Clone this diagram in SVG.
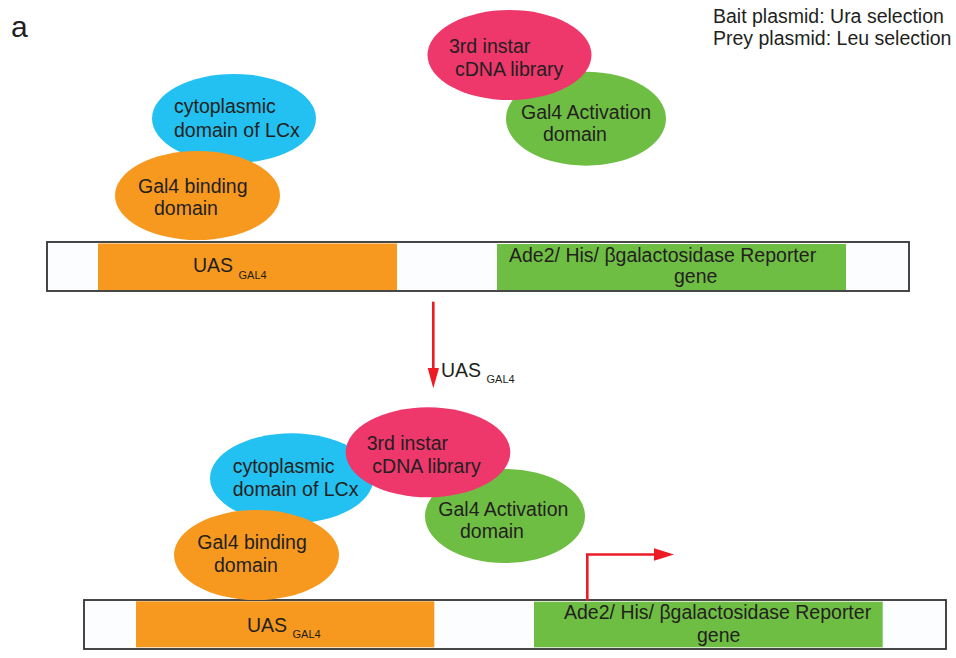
<svg xmlns="http://www.w3.org/2000/svg" width="956" height="658" viewBox="0 0 956 658">
<style>
text{font-family:"Liberation Sans",Arial,sans-serif;font-size:19.5px;fill:#231f20}
.sub{font-size:11px}
.bar{fill:#fcfdff;stroke:#333;stroke-width:1.8}
.cy{fill:#22c1f1}
.or{fill:#f7991f}
.pk{fill:#ee386c}
.gr{fill:#6fbe44}
.red{stroke:#ed1c24;stroke-width:2.6;fill:none}
.redf{fill:#ed1c24}
</style>
<rect width="956" height="658" fill="#fff"/>
<text x="11" y="37" style="font-size:30px">a</text>
<g id="legend">
<text x="713" y="23">Bait plasmid: Ura selection</text>
<text x="713" y="45">Prey plasmid: Leu selection</text>
</g>
<!-- top panel -->
<g id="top-plasmid">
<rect class="bar" x="47" y="242" width="862" height="49"/>
<rect class="or" x="98" y="243.5" width="299" height="46.5"/>
<rect class="gr" x="497" y="244" width="349" height="46"/>
<text x="193" y="272">UAS <tspan class="sub" dy="6.5">GAL4</tspan></text>
<text x="509" y="262">Ade2/ His/ βgalactosidase Reporter</text>
<text x="674" y="283">gene</text>
</g>
<g id="top-lcx">
<ellipse class="cy" cx="234" cy="118.5" rx="82" ry="44.5"/>
<text x="174" y="113">cytoplasmic</text>
<text x="174" y="137">domain of LCx</text>
</g>
<g id="top-gal4bd">
<ellipse class="or" cx="197.5" cy="195.5" rx="82.5" ry="44.5"/>
<text x="138" y="193">Gal4 binding</text>
<text x="154" y="215">domain</text>
</g>
<g id="top-gal4ad">
<ellipse class="gr" cx="586" cy="118.7" rx="80" ry="47"/>
<text x="521" y="119">Gal4 Activation</text>
<text x="543" y="141">domain</text>
</g>
<g id="top-cdna">
<ellipse class="pk" cx="509.5" cy="55" rx="82" ry="45"/>
<text x="449" y="53">3rd instar</text>
<text x="455" y="76">cDNA library</text>
</g>
<!-- bottom panel -->
<g id="bottom-plasmid">
<rect class="bar" x="84" y="600" width="862" height="49"/>
<rect class="or" x="136" y="601.3" width="298.3" height="46"/>
<rect class="gr" x="534" y="601.7" width="348.7" height="45.6"/>
<text x="247" y="632">UAS <tspan class="sub" dy="5.5">GAL4</tspan></text>
<text x="564" y="618.5">Ade2/ His/ βgalactosidase Reporter</text>
<text x="697" y="642">gene</text>
</g>
<g id="bottom-lcx">
<ellipse class="cy" cx="291.7" cy="478.3" rx="81.7" ry="45"/>
<text x="232.7" y="472.7">cytoplasmic</text>
<text x="232.7" y="496">domain of LCx</text>
</g>
<g id="bottom-gal4bd">
<ellipse class="or" cx="256.5" cy="555" rx="82.5" ry="45"/>
<text x="197.3" y="549">Gal4 binding</text>
<text x="214" y="572.3">domain</text>
</g>
<g id="bottom-gal4ad">
<ellipse class="gr" cx="505" cy="516" rx="80" ry="47"/>
<text x="438.3" y="515.7">Gal4 Activation</text>
<text x="460" y="538.3">domain</text>
</g>
<g id="bottom-cdna">
<ellipse class="pk" cx="428" cy="452.3" rx="82.3" ry="45"/>
<text x="366.7" y="450">3rd instar</text>
<text x="372.3" y="472.7">cDNA library</text>
</g>
<g id="connectors">
<line class="red" x1="433.3" y1="301.7" x2="433.3" y2="370"/>
<polygon class="redf" points="427.7,368 439,368 433.3,388.3"/>
<text x="441" y="377.3">UAS <tspan class="sub" dy="6">GAL4</tspan></text>
<polyline class="red" points="587.3,600.7 587.3,554.5 656,554.5"/>
<polygon class="redf" points="654,548.3 674,554.5 654,560.7"/>
</g>
</svg>
